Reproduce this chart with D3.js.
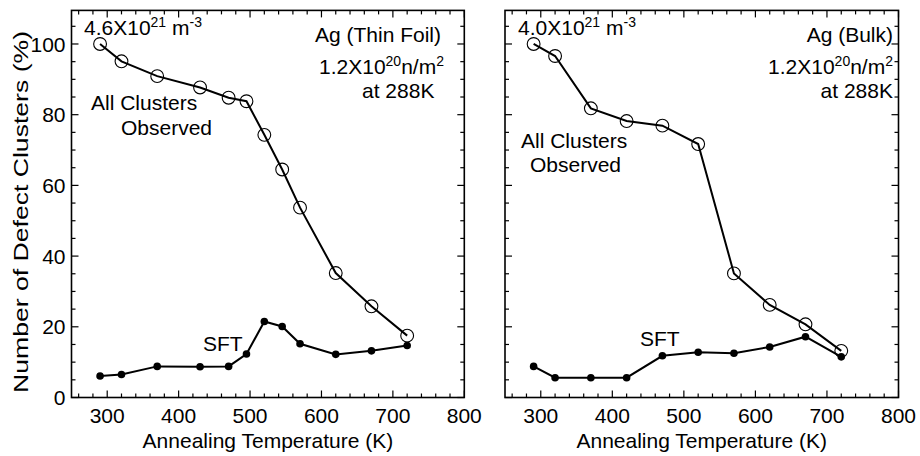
<!DOCTYPE html>
<html>
<head>
<meta charset="utf-8">
<script src="https://cdn.jsdelivr.net/npm/d3@7"></script>
<style>
  body { margin: 0; background: #fff; }
  text { font-family: "Liberation Sans", Arial, Helvetica, sans-serif; fill: #000; }
</style>
</head>
<body>
<div id="chart"></div>
<script>
// Annealing temperatures (K) and percentages
const tempsThin = [290, 320, 370, 430, 470, 495, 520, 545, 570, 620, 670, 720];
const allThin   = [100, 95.1, 90.9, 87.7, 84.8, 83.8, 74.3, 64.5, 53.7, 35.2, 25.8, 17.5];
const sftThin   = [6.1, 6.5, 8.8, 8.7, 8.8, 12.3, 21.5, 20.1, 15.2, 12.2, 13.2, 14.7];

const tempsBulk = [290, 320, 370, 420, 470, 520, 570, 620, 670, 720];
const allBulk   = [100, 96.6, 81.8, 78.2, 76.9, 71.7, 35.1, 26.2, 20.7, 13.2];
const sftBulk   = [8.8, 5.6, 5.6, 5.6, 11.8, 12.8, 12.5, 14.3, 17.2, 11.5];

const xTicks = [300, 400, 500, 600, 700, 800];
const yTicks = [0, 20, 40, 60, 80, 100];

const width = 920, height = 456;

const svg = d3.select("#chart")
  .append("svg")
  .attr("width", width)
  .attr("height", height);

const y = d3.scaleLinear().domain([0, 109.5]).range([397.5, 10.4]);

function drawPanel(opts) {
  const x = d3.scaleLinear().domain([250, 800]).range(opts.range);
  const g = svg.append("g");
  const x0 = x.range()[0], x1 = x.range()[1];
  const y0 = y.range()[0], y1 = y.range()[1];

  // minor / major ticks on all four sides, pointing inward
  const xMinor = d3.range(260, 800, 20).filter(v => v % 100 !== 0);
  const yMinor = d3.range(5, 110, 5).filter(v => v % 20 !== 0);
  const tickG = g.append("g").attr("stroke", "#000").attr("stroke-width", 1.2);
  const xt = xTicks.map(v => ({ v, len: 7 })).concat(xMinor.map(v => ({ v, len: 4 })));
  const yt = yTicks.map(v => ({ v, len: 7 })).concat(yMinor.map(v => ({ v, len: 4 })));

  tickG.selectAll(".xb").data(xt).enter().append("line")
    .attr("x1", d => x(d.v)).attr("x2", d => x(d.v))
    .attr("y1", y0).attr("y2", d => y0 - d.len);
  tickG.selectAll(".xt").data(xt).enter().append("line")
    .attr("x1", d => x(d.v)).attr("x2", d => x(d.v))
    .attr("y1", y1).attr("y2", d => y1 + d.len);
  tickG.selectAll(".yl").data(yt).enter().append("line")
    .attr("y1", d => y(d.v)).attr("y2", d => y(d.v))
    .attr("x1", x0).attr("x2", d => x0 + d.len);
  tickG.selectAll(".yr").data(yt).enter().append("line")
    .attr("y1", d => y(d.v)).attr("y2", d => y(d.v))
    .attr("x1", x1).attr("x2", d => x1 - d.len);

  // frame
  g.append("rect")
    .attr("x", x0).attr("y", y1)
    .attr("width", x1 - x0).attr("height", y0 - y1)
    .attr("fill", "none").attr("stroke", "#000").attr("stroke-width", 1.6);

  // x tick labels
  g.selectAll(".xl").data(xTicks).enter().append("text")
    .attr("x", d => x(d)).attr("y", 423)
    .attr("text-anchor", "middle")
    .style("font-size", "21px")
    .text(d => d);

  g.append("text")
    .attr("x", (x0 + x1) / 2).attr("y", 448)
    .attr("text-anchor", "middle")
    .style("font-size", "21px")
    .text("Annealing Temperature (K)");

  if (opts.yLabels) {
    g.selectAll(".yl").data(yTicks).enter().append("text")
      .attr("x", x0 - 6).attr("y", d => y(d))
      .attr("dy", "0.36em")
      .attr("text-anchor", "end")
      .style("font-size", "21px")
      .text(d => d);
    // the scanned y title is stretched along its length
    g.append("text")
      .attr("transform", `translate(28,212) rotate(-90)`)
      .attr("text-anchor", "middle")
      .attr("textLength", 362)
      .attr("lengthAdjust", "spacingAndGlyphs")
      .style("font-size", "21px")
      .text("Number of Defect Clusters (%)");
  }

  const line = d3.line().x(d => x(d[0])).y(d => y(d[1]));
  const allPts = opts.temps.map((t, i) => [t, opts.all[i]]);
  const sftPts = opts.temps.map((t, i) => [t, opts.sft[i]]);

  g.append("path").datum(allPts)
    .attr("d", line).attr("fill", "none")
    .attr("stroke", "#000").attr("stroke-width", 2);
  g.append("path").datum(sftPts)
    .attr("d", line).attr("fill", "none")
    .attr("stroke", "#000").attr("stroke-width", 2);

  g.selectAll(".open").data(allPts).enter().append("circle")
    .attr("cx", d => x(d[0])).attr("cy", d => y(d[1]))
    .attr("r", 6.4)
    .attr("fill", "none").attr("stroke", "#000").attr("stroke-width", 1.1);
  g.selectAll(".dot").data(sftPts).enter().append("circle")
    .attr("cx", d => x(d[0])).attr("cy", d => y(d[1]))
    .attr("r", 3.8)
    .attr("fill", "#000");

  // annotations
  const dens = g.append("text").attr("x", opts.densX).attr("y", 35).style("font-size", "21px");
  dens.append("tspan").text(opts.density + "X10");
  dens.append("tspan").attr("dy", -8).style("font-size", "14px").text("21");
  dens.append("tspan").attr("dy", 8).text(" m");
  dens.append("tspan").attr("dy", -8).style("font-size", "14px").text("-3");

  g.append("text").attr("x", opts.titleX).attr("y", 42)
    .attr("text-anchor", opts.titleAnchor).style("font-size", "21px").text(opts.title);

  const flu = g.append("text").attr("x", opts.fluX).attr("y", 74)
    .attr("text-anchor", opts.titleAnchor).style("font-size", "21px");
  flu.append("tspan").text("1.2X10");
  flu.append("tspan").attr("dy", -8).style("font-size", "14px").text("20");
  flu.append("tspan").attr("dy", 8).text("n/m");
  flu.append("tspan").attr("dy", -8).style("font-size", "14px").text("2");

  g.append("text").attr("x", opts.atX).attr("y", 98)
    .attr("text-anchor", opts.titleAnchor).style("font-size", "21px").text("at 288K");

  g.append("text").attr("x", opts.allX[0]).attr("y", opts.allY[0])
    .style("font-size", "21px").text("All Clusters");
  g.append("text").attr("x", opts.allX[1]).attr("y", opts.allY[1])
    .style("font-size", "21px").text("Observed");

  g.append("text").attr("x", opts.sftX).attr("y", opts.sftY)
    .style("font-size", "21px").text("SFT");
}

drawPanel({
  range: [71.5, 464.3],
  temps: tempsThin, all: allThin, sft: sftThin,
  yLabels: true,
  density: "4.6", densX: 84,
  title: "Ag (Thin Foil)", titleAnchor: "start", titleX: 315, fluX: 319, atX: 362,
  allX: [91, 121], allY: [110, 135],
  sftX: 203, sftY: 351
});

drawPanel({
  range: [505, 898.5],
  temps: tempsBulk, all: allBulk, sft: sftBulk,
  yLabels: false,
  density: "4.0", densX: 518,
  title: "Ag (Bulk)", titleAnchor: "end", titleX: 893, fluX: 893, atX: 893,
  allX: [521, 530], allY: [148, 172],
  sftX: 640, sftY: 346
});
</script>
</body>
</html>
